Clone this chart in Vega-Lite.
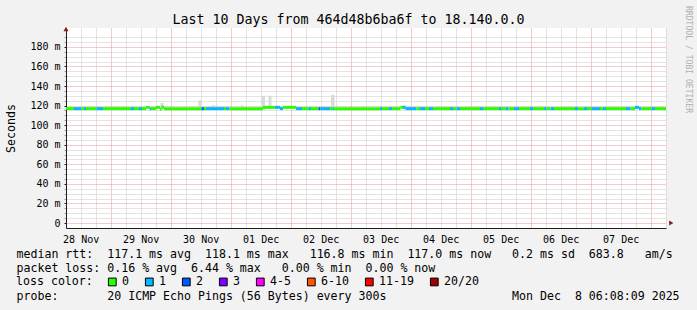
{
  "$schema": "https://vega.github.io/schema/vega-lite/v6.json",
  "width": 600,
  "height": 200,
  "autosize": {"type": "none"},
  "padding": {"left": 66, "top": 28, "right": 31, "bottom": 82},
  "background": "#f2f2f2",
  "title": {
    "text": "Last 10 Days from 464d48b6ba6f to 18.140.0.0",
    "font": "DejaVu Sans Mono",
    "fontSize": 13.3,
    "fontWeight": "normal",
    "color": "#000000",
    "anchor": "middle",
    "frame": "group",
    "dx": -17.5,
    "dy": 32,
    "baseline": "alphabetic",
    "offset": 0
  },
  "config": {
    "font": "DejaVu Sans Mono",
    "view": {"fill": "#ffffff", "stroke": null},
    "axis": {
      "labelFont": "DejaVu Sans Mono",
      "titleFont": "DejaVu Sans Mono",
      "labelColor": "#000000",
      "titleColor": "#000000",
      "titleFontWeight": "normal",
      "labelFontSize": 10
    }
  },
  "datasets": {
    "median": [
      {"t0": "2025-11-28T06:08:09", "t1": "2025-11-28T09:20", "loss": "0", "v": 116.9},
      {"t0": "2025-11-28T09:20", "t1": "2025-11-28T12:20", "loss": "1", "v": 116.9},
      {"t0": "2025-11-28T12:20", "t1": "2025-11-28T13:20", "loss": "0", "v": 116.9},
      {"t0": "2025-11-28T13:20", "t1": "2025-11-28T14:08", "loss": "1", "v": 116.9},
      {"t0": "2025-11-28T14:08", "t1": "2025-11-28T18:20", "loss": "0", "v": 116.9},
      {"t0": "2025-11-28T18:20", "t1": "2025-11-28T20:56", "loss": "1", "v": 116.9},
      {"t0": "2025-11-28T20:56", "t1": "2025-11-29T08:08", "loss": "0", "v": 116.9},
      {"t0": "2025-11-29T08:08", "t1": "2025-11-29T09:20", "loss": "1", "v": 116.9},
      {"t0": "2025-11-29T09:20", "t1": "2025-11-29T11:20", "loss": "0", "v": 116.9},
      {"t0": "2025-11-29T11:20", "t1": "2025-11-29T12:32", "loss": "1", "v": 116.9},
      {"t0": "2025-11-29T12:32", "t1": "2025-11-29T14:08", "loss": "0", "v": 116.9},
      {"t0": "2025-11-29T14:08", "t1": "2025-11-29T15:32", "loss": "0", "v": 118.2},
      {"t0": "2025-11-29T15:32", "t1": "2025-11-29T16:08", "loss": "1", "v": 116.9},
      {"t0": "2025-11-29T16:08", "t1": "2025-11-29T18:08", "loss": "0", "v": 116.9},
      {"t0": "2025-11-29T18:08", "t1": "2025-11-29T19:44", "loss": "0", "v": 118.2},
      {"t0": "2025-11-29T19:44", "t1": "2025-11-29T20:20", "loss": "0", "v": 116.4},
      {"t0": "2025-11-29T20:20", "t1": "2025-11-29T21:20", "loss": "0", "v": 118.4},
      {"t0": "2025-11-29T21:20", "t1": "2025-11-30T12:20", "loss": "0", "v": 116.9},
      {"t0": "2025-11-30T12:20", "t1": "2025-11-30T13:20", "loss": "2", "v": 116.9},
      {"t0": "2025-11-30T13:20", "t1": "2025-11-30T14:08", "loss": "0", "v": 116.9},
      {"t0": "2025-11-30T14:08", "t1": "2025-11-30T21:20", "loss": "1", "v": 116.9},
      {"t0": "2025-11-30T21:20", "t1": "2025-11-30T22:08", "loss": "0", "v": 116.9},
      {"t0": "2025-11-30T22:08", "t1": "2025-11-30T23:32", "loss": "1", "v": 116.9},
      {"t0": "2025-11-30T23:32", "t1": "2025-12-01T12:56", "loss": "0", "v": 116.9},
      {"t0": "2025-12-01T12:56", "t1": "2025-12-01T17:44", "loss": "0", "v": 118.2},
      {"t0": "2025-12-01T17:44", "t1": "2025-12-01T19:44", "loss": "1", "v": 118.2},
      {"t0": "2025-12-01T19:44", "t1": "2025-12-01T20:56", "loss": "1", "v": 116.9},
      {"t0": "2025-12-01T20:56", "t1": "2025-12-02T02:08", "loss": "0", "v": 118.2},
      {"t0": "2025-12-02T02:08", "t1": "2025-12-02T04:32", "loss": "1", "v": 116.9},
      {"t0": "2025-12-02T04:32", "t1": "2025-12-02T07:20", "loss": "0", "v": 116.9},
      {"t0": "2025-12-02T07:20", "t1": "2025-12-02T08:08", "loss": "1", "v": 116.9},
      {"t0": "2025-12-02T08:08", "t1": "2025-12-02T11:08", "loss": "0", "v": 116.9},
      {"t0": "2025-12-02T11:08", "t1": "2025-12-02T11:56", "loss": "2", "v": 116.9},
      {"t0": "2025-12-02T11:56", "t1": "2025-12-02T15:44", "loss": "1", "v": 116.9},
      {"t0": "2025-12-02T15:44", "t1": "2025-12-02T16:56", "loss": "0", "v": 116.9},
      {"t0": "2025-12-02T16:56", "t1": "2025-12-02T17:32", "loss": "1", "v": 116.9},
      {"t0": "2025-12-02T17:32", "t1": "2025-12-03T11:44", "loss": "0", "v": 116.9},
      {"t0": "2025-12-03T11:44", "t1": "2025-12-03T12:32", "loss": "1", "v": 116.9},
      {"t0": "2025-12-03T12:32", "t1": "2025-12-03T15:20", "loss": "0", "v": 116.9},
      {"t0": "2025-12-03T15:20", "t1": "2025-12-03T16:32", "loss": "1", "v": 116.9},
      {"t0": "2025-12-03T16:32", "t1": "2025-12-03T19:56", "loss": "0", "v": 116.9},
      {"t0": "2025-12-03T19:56", "t1": "2025-12-03T20:56", "loss": "0", "v": 118.2},
      {"t0": "2025-12-03T20:56", "t1": "2025-12-03T21:56", "loss": "1", "v": 118.2},
      {"t0": "2025-12-03T21:56", "t1": "2025-12-04T02:20", "loss": "1", "v": 116.9},
      {"t0": "2025-12-04T02:20", "t1": "2025-12-04T03:44", "loss": "0", "v": 116.9},
      {"t0": "2025-12-04T03:44", "t1": "2025-12-04T05:44", "loss": "1", "v": 116.9},
      {"t0": "2025-12-04T05:44", "t1": "2025-12-04T07:20", "loss": "0", "v": 116.9},
      {"t0": "2025-12-04T07:20", "t1": "2025-12-04T08:56", "loss": "1", "v": 116.9},
      {"t0": "2025-12-04T08:56", "t1": "2025-12-04T15:44", "loss": "0", "v": 116.9},
      {"t0": "2025-12-04T15:44", "t1": "2025-12-04T16:56", "loss": "1", "v": 116.9},
      {"t0": "2025-12-04T16:56", "t1": "2025-12-04T18:20", "loss": "0", "v": 116.9},
      {"t0": "2025-12-04T18:20", "t1": "2025-12-04T19:44", "loss": "1", "v": 116.9},
      {"t0": "2025-12-04T19:44", "t1": "2025-12-05T03:44", "loss": "0", "v": 116.9},
      {"t0": "2025-12-05T03:44", "t1": "2025-12-05T04:56", "loss": "1", "v": 116.9},
      {"t0": "2025-12-05T04:56", "t1": "2025-12-05T11:20", "loss": "0", "v": 116.9},
      {"t0": "2025-12-05T11:20", "t1": "2025-12-05T12:08", "loss": "1", "v": 116.9},
      {"t0": "2025-12-05T12:08", "t1": "2025-12-05T13:56", "loss": "0", "v": 116.9},
      {"t0": "2025-12-05T13:56", "t1": "2025-12-05T15:08", "loss": "1", "v": 116.9},
      {"t0": "2025-12-05T15:08", "t1": "2025-12-05T17:20", "loss": "0", "v": 116.9},
      {"t0": "2025-12-05T17:20", "t1": "2025-12-05T19:20", "loss": "1", "v": 116.9},
      {"t0": "2025-12-05T19:20", "t1": "2025-12-05T23:44", "loss": "0", "v": 116.9},
      {"t0": "2025-12-05T23:44", "t1": "2025-12-06T00:56", "loss": "1", "v": 116.9},
      {"t0": "2025-12-06T00:56", "t1": "2025-12-06T05:20", "loss": "0", "v": 116.9},
      {"t0": "2025-12-06T05:20", "t1": "2025-12-06T06:20", "loss": "1", "v": 116.9},
      {"t0": "2025-12-06T06:20", "t1": "2025-12-06T07:56", "loss": "0", "v": 116.9},
      {"t0": "2025-12-06T07:56", "t1": "2025-12-06T09:20", "loss": "1", "v": 116.9},
      {"t0": "2025-12-06T09:20", "t1": "2025-12-06T17:44", "loss": "0", "v": 116.9},
      {"t0": "2025-12-06T17:44", "t1": "2025-12-06T18:56", "loss": "1", "v": 116.9},
      {"t0": "2025-12-06T18:56", "t1": "2025-12-06T21:20", "loss": "0", "v": 116.9},
      {"t0": "2025-12-06T21:20", "t1": "2025-12-06T22:32", "loss": "1", "v": 116.9},
      {"t0": "2025-12-06T22:32", "t1": "2025-12-07T00:20", "loss": "0", "v": 116.9},
      {"t0": "2025-12-07T00:20", "t1": "2025-12-07T03:44", "loss": "1", "v": 116.9},
      {"t0": "2025-12-07T03:44", "t1": "2025-12-07T04:56", "loss": "0", "v": 116.9},
      {"t0": "2025-12-07T04:56", "t1": "2025-12-07T06:08", "loss": "1", "v": 116.9},
      {"t0": "2025-12-07T06:08", "t1": "2025-12-07T14:08", "loss": "0", "v": 116.9},
      {"t0": "2025-12-07T14:08", "t1": "2025-12-07T15:56", "loss": "1", "v": 116.9},
      {"t0": "2025-12-07T15:56", "t1": "2025-12-07T17:44", "loss": "0", "v": 116.9},
      {"t0": "2025-12-07T17:44", "t1": "2025-12-07T19:20", "loss": "1", "v": 118.2},
      {"t0": "2025-12-07T19:20", "t1": "2025-12-07T20:20", "loss": "1", "v": 116.9},
      {"t0": "2025-12-07T20:20", "t1": "2025-12-08T00:20", "loss": "0", "v": 116.9},
      {"t0": "2025-12-08T00:20", "t1": "2025-12-08T01:44", "loss": "1", "v": 116.9},
      {"t0": "2025-12-08T01:44", "t1": "2025-12-08T06:08:09", "loss": "0", "v": 116.9}
    ],
    "smoke": [
      {"t0": "2025-11-28T22:08", "t1": "2025-11-28T22:56", "lo": 116, "hi": 119.8},
      {"t0": "2025-11-29T19:56", "t1": "2025-11-29T21:08", "lo": 116, "hi": 122.9},
      {"t0": "2025-11-30T11:08", "t1": "2025-11-30T12:20", "lo": 116, "hi": 125.5},
      {"t0": "2025-11-30T16:32", "t1": "2025-11-30T17:44", "lo": 116, "hi": 120.5},
      {"t0": "2025-12-01T04:08", "t1": "2025-12-01T04:56", "lo": 116, "hi": 120.5},
      {"t0": "2025-12-01T12:20", "t1": "2025-12-01T13:44", "lo": 116, "hi": 130},
      {"t0": "2025-12-01T15:08", "t1": "2025-12-01T16:20", "lo": 116, "hi": 130},
      {"t0": "2025-12-02T16:08", "t1": "2025-12-02T17:32", "lo": 116, "hi": 131},
      {"t0": "2025-12-03T20:56", "t1": "2025-12-03T22:32", "lo": 116, "hi": 120}
    ]
  },
  "layer": [
    {
      "data": {"name": "smoke"},
      "mark": {"type": "rect", "color": "#d9d9d9"},
      "encoding": {
        "x": {
          "field": "t0", "type": "temporal",
          "scale": {"domain": [{"year": 2025, "month": 11, "date": 28, "hours": 6, "minutes": 8, "seconds": 9}, {"year": 2025, "month": 12, "date": 8, "hours": 6, "minutes": 8, "seconds": 9}], "nice": false},
          "axis": {
            "orient": "bottom", "labels": false, "ticks": false, "domain": false, "title": null,
            "grid": true, "gridColor": "#c8c8c8", "gridDash": [1, 1], "gridWidth": 1,
            "values": [
              {"year": 2025, "month": 11, "date": 28, "hours": 12}, {"year": 2025, "month": 11, "date": 28, "hours": 18},
              {"year": 2025, "month": 11, "date": 29, "hours": 6}, {"year": 2025, "month": 11, "date": 29, "hours": 12}, {"year": 2025, "month": 11, "date": 29, "hours": 18},
              {"year": 2025, "month": 11, "date": 30, "hours": 6}, {"year": 2025, "month": 11, "date": 30, "hours": 12}, {"year": 2025, "month": 11, "date": 30, "hours": 18},
              {"year": 2025, "month": 12, "date": 1, "hours": 6}, {"year": 2025, "month": 12, "date": 1, "hours": 12}, {"year": 2025, "month": 12, "date": 1, "hours": 18},
              {"year": 2025, "month": 12, "date": 2, "hours": 6}, {"year": 2025, "month": 12, "date": 2, "hours": 12}, {"year": 2025, "month": 12, "date": 2, "hours": 18},
              {"year": 2025, "month": 12, "date": 3, "hours": 6}, {"year": 2025, "month": 12, "date": 3, "hours": 12}, {"year": 2025, "month": 12, "date": 3, "hours": 18},
              {"year": 2025, "month": 12, "date": 4, "hours": 6}, {"year": 2025, "month": 12, "date": 4, "hours": 12}, {"year": 2025, "month": 12, "date": 4, "hours": 18},
              {"year": 2025, "month": 12, "date": 5, "hours": 6}, {"year": 2025, "month": 12, "date": 5, "hours": 12}, {"year": 2025, "month": 12, "date": 5, "hours": 18},
              {"year": 2025, "month": 12, "date": 6, "hours": 6}, {"year": 2025, "month": 12, "date": 6, "hours": 12}, {"year": 2025, "month": 12, "date": 6, "hours": 18},
              {"year": 2025, "month": 12, "date": 7, "hours": 6}, {"year": 2025, "month": 12, "date": 7, "hours": 12}, {"year": 2025, "month": 12, "date": 7, "hours": 18},
              {"year": 2025, "month": 12, "date": 8, "hours": 6}
            ]
          }
        },
        "x2": {"field": "t1"},
        "y": {
          "field": "lo", "type": "quantitative",
          "scale": {"domain": [0, 194.2], "nice": false, "zero": false},
          "axis": {
            "orient": "left", "labels": false, "ticks": true, "tickSize": 2, "tickColor": "#a0a0a0", "domain": false, "title": null,
            "grid": true, "gridColor": "#c8c8c8", "gridDash": [1, 1], "gridWidth": 1,
            "values": [5, 10, 15, 25, 30, 35, 45, 50, 55, 65, 70, 75, 85, 90, 95, 105, 110, 115, 125, 130, 135, 145, 150, 155, 165, 170, 175, 185, 190]
          }
        },
        "y2": {"field": "hi"}
      }
    },
    {
      "data": {"name": "median"},
      "mark": {"type": "bar", "orient": "horizontal", "height": 3},
      "encoding": {
        "x": {
          "field": "t0", "type": "temporal",
          "scale": {"domain": [{"year": 2025, "month": 11, "date": 28, "hours": 6, "minutes": 8, "seconds": 9}, {"year": 2025, "month": 12, "date": 8, "hours": 6, "minutes": 8, "seconds": 9}], "nice": false},
          "axis": {
            "orient": "bottom", "labels": false, "ticks": false, "title": null,
            "domain": true, "domainColor": "#1f1f1f", "domainWidth": 1,
            "grid": true, "gridColor": "#eb9595", "gridDash": [1, 1], "gridWidth": 1,
            "values": [
              {"year": 2025, "month": 11, "date": 29}, {"year": 2025, "month": 11, "date": 30},
              {"year": 2025, "month": 12, "date": 1}, {"year": 2025, "month": 12, "date": 2}, {"year": 2025, "month": 12, "date": 3},
              {"year": 2025, "month": 12, "date": 4}, {"year": 2025, "month": 12, "date": 5}, {"year": 2025, "month": 12, "date": 6},
              {"year": 2025, "month": 12, "date": 7}, {"year": 2025, "month": 12, "date": 8}
            ]
          }
        },
        "x2": {"field": "t1"},
        "y": {
          "field": "v", "type": "quantitative",
          "scale": {"domain": [0, 194.2], "nice": false, "zero": false},
          "axis": {
            "orient": "left",
            "values": [0, 20, 40, 60, 80, 100, 120, 140, 160, 180],
            "labelExpr": "datum.value == 0 ? '0' : datum.value + ' m'",
            "labelFontSize": 10, "labelPadding": 4, "labelFlush": false, "labelBaseline": "middle",
            "ticks": true, "tickSize": 2, "tickColor": "#1f1f1f",
            "domain": true, "domainColor": "#1f1f1f", "domainWidth": 1,
            "grid": true, "gridColor": "#eb9595", "gridDash": [1, 1], "gridWidth": 1,
            "title": "Seconds", "titleFontSize": 11.6, "titleAngle": -90, "titleX": -55, "titleY": 100,
            "titleAlign": "center", "titleBaseline": "middle"
          }
        },
        "fill": {
          "field": "loss", "type": "nominal",
          "scale": {
            "domain": ["0", "1", "2", "3", "4-5", "6-10", "11-19", "20/20"],
            "range": ["#26ff00", "#00b8ff", "#0059ff", "#7e00ff", "#ff00ff", "#ff5500", "#ff0000", "#a00000"]
          },
          "legend": {
            "orient": "none", "legendX": -50, "legendY": 248, "direction": "horizontal",
            "title": "loss color:", "titleOrient": "left", "titlePadding": 13.5,
            "titleFont": "DejaVu Sans Mono", "titleFontSize": 11.6, "titleFontWeight": "normal", "titleColor": "#000000",
            "titleBaseline": "middle",
            "symbolType": "square", "symbolSize": 60, "symbolStrokeColor": "#000000", "symbolStrokeWidth": 1, "symbolOpacity": 1,
            "labelFont": "DejaVu Sans Mono", "labelFontSize": 11.6, "labelColor": "#000000", "labelOffset": 4,
            "columnPadding": 13, "padding": 0
          }
        }
      }
    },
    {
      "data": {"values": [{}]},
      "mark": {"type": "point", "shape": "triangle-up", "filled": true, "color": "#801f1f", "size": 25, "opacity": 1},
      "encoding": {
        "x": {
          "datum": {"year": 2025, "month": 11, "date": 28, "hours": 6, "minutes": 8, "seconds": 9}, "type": "temporal",
          "scale": {"domain": [{"year": 2025, "month": 11, "date": 28, "hours": 6, "minutes": 8, "seconds": 9}, {"year": 2025, "month": 12, "date": 8, "hours": 6, "minutes": 8, "seconds": 9}], "nice": false},
          "axis": {
            "orient": "bottom", "grid": false, "ticks": false, "domain": false,
            "format": "%d %b", "labelFontSize": 10, "labelPadding": 6, "labelBaseline": "top", "labelAlign": "center",
            "labelFlush": false, "labelOverlap": false, "labelBound": false,
            "values": [
              {"year": 2025, "month": 11, "date": 28, "hours": 12}, {"year": 2025, "month": 11, "date": 29, "hours": 12},
              {"year": 2025, "month": 11, "date": 30, "hours": 12}, {"year": 2025, "month": 12, "date": 1, "hours": 12},
              {"year": 2025, "month": 12, "date": 2, "hours": 12}, {"year": 2025, "month": 12, "date": 3, "hours": 12},
              {"year": 2025, "month": 12, "date": 4, "hours": 12}, {"year": 2025, "month": 12, "date": 5, "hours": 12},
              {"year": 2025, "month": 12, "date": 6, "hours": 12}, {"year": 2025, "month": 12, "date": 7, "hours": 12}
            ],
            "title": [
              "median\u00a0rtt:\u00a0\u00a0117.1\u00a0ms\u00a0avg\u00a0\u00a0118.1\u00a0ms\u00a0max\u00a0\u00a0\u00a0116.8\u00a0ms\u00a0min\u00a0\u00a0117.0\u00a0ms\u00a0now\u00a0\u00a0\u00a00.2\u00a0ms\u00a0sd\u00a0\u00a0683.8\u00a0\u00a0\u00a0am/s",
              "packet\u00a0loss:\u00a00.16\u00a0%\u00a0avg\u00a0\u00a06.44\u00a0%\u00a0max\u00a0\u00a0\u00a00.00\u00a0%\u00a0min\u00a0\u00a00.00\u00a0%\u00a0now"
            ],
            "titleX": -50, "titleY": 20.8, "titleAlign": "left", "titleAnchor": "start", "titleBaseline": "top",
            "titleFontSize": 11.6, "titleLineHeight": 14, "titleAngle": 0
          }
        },
        "y": {
          "datum": 198.3, "type": "quantitative",
          "scale": {"domain": [0, 194.2], "nice": false, "zero": false},
          "axis": {
            "orient": "right", "labels": false, "ticks": false, "domain": false, "grid": false,
            "title": "RRDTOOL / TOBI OETIKER", "titleAngle": 90, "titleX": 21, "titleY": 31,
            "titleAlign": "center", "titleBaseline": "middle", "titleFontSize": 8.1, "titleColor": "#b0b0b0"
          }
        }
      }
    },
    {
      "data": {"values": [{}]},
      "mark": {"type": "point", "shape": "triangle-right", "filled": true, "color": "#801f1f", "size": 25, "opacity": 1},
      "encoding": {
        "x": {
          "datum": {"year": 2025, "month": 12, "date": 8, "hours": 8, "minutes": 15}, "type": "temporal",
          "scale": {"domain": [{"year": 2025, "month": 11, "date": 28, "hours": 6, "minutes": 8, "seconds": 9}, {"year": 2025, "month": 12, "date": 8, "hours": 6, "minutes": 8, "seconds": 9}], "nice": false},
          "axis": {
            "orient": "bottom", "labels": false, "ticks": false, "domain": false, "grid": false,
            "title": "probe:\u00a0\u00a0\u00a0\u00a0\u00a0\u00a0\u00a020\u00a0ICMP\u00a0Echo\u00a0Pings\u00a0(56\u00a0Bytes)\u00a0every\u00a0300s\u00a0\u00a0\u00a0\u00a0\u00a0\u00a0\u00a0\u00a0\u00a0\u00a0\u00a0\u00a0\u00a0\u00a0\u00a0\u00a0\u00a0\u00a0Mon\u00a0Dec\u00a0\u00a08\u00a006:08:09\u00a02025",
            "titleX": -50, "titleY": 62.8, "titleAlign": "left", "titleAnchor": "start", "titleBaseline": "top",
            "titleFontSize": 11.6, "titleAngle": 0
          }
        },
        "y": {
          "datum": 0, "type": "quantitative",
          "scale": {"domain": [0, 194.2], "nice": false, "zero": false},
          "axis": null
        }
      }
    }
  ],
  "resolve": {"axis": {"x": "independent", "y": "independent"}}
}
